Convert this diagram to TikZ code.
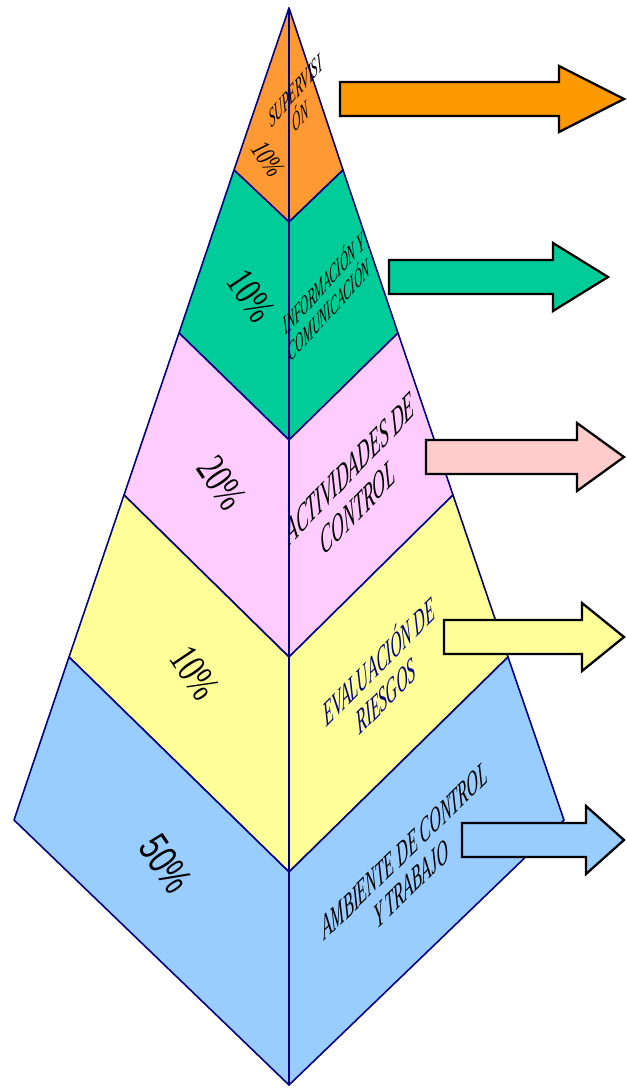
\documentclass[tikz,border=0pt]{standalone}
\usepackage{fontspec}
\setmainfont{Liberation Serif}
\setsansfont{Liberation Sans}

\begin{document}
\begin{tikzpicture}[
    x=0.02cm, y=-0.02cm,
    line join=round,
]

\definecolor{supCol}{RGB}{255, 153, 51}
\definecolor{infCol}{RGB}{0, 204, 153}
\definecolor{actCol}{RGB}{255, 204, 255}
\definecolor{evaCol}{RGB}{255, 255, 153}
\definecolor{ambCol}{RGB}{153, 204, 255}
\definecolor{edgeCol}{RGB}{0, 0, 128}
\definecolor{supArrowCol}{RGB}{255, 153, 0}
\definecolor{actArrowCol}{RGB}{255, 204, 204}

\tikzset{
    face/.style = {draw=edgeCol, line width=0.9pt},
    block_arrow/.style = {draw=black, line width=1.3pt, line join=miter},
    pct_label/.style = {rotate=-56, xscale=0.7, inner sep=0pt},
    layer_label/.style = {inner sep=0pt, align=center}
}

\useasboundingbox (0,0) rectangle (626,1088);

% corner points of the pyramid
\coordinate (apex) at (289, 8);
\coordinate (l1) at (234, 170);  \coordinate (c1) at (289, 222);  \coordinate (r1) at (343, 170);
\coordinate (l2) at (179, 333);  \coordinate (c2) at (289, 440);  \coordinate (r2) at (398, 333);
\coordinate (l3) at (124, 495);  \coordinate (c3) at (289, 657);  \coordinate (r3) at (453, 495);
\coordinate (l4) at (69, 657);   \coordinate (c4) at (289, 872);  \coordinate (r4) at (508, 657);
\coordinate (l5) at (14, 820);   \coordinate (c5) at (289, 1085); \coordinate (r5) at (564, 820);

% =========== SUPERVISION ===========
\draw[face, fill=supCol] (apex) -- (l1) -- (c1) -- cycle;
\draw[face, fill=supCol] (apex) -- (r1) -- (c1) -- cycle;

% =========== INFORMACION Y COMUNICACION ===========
\draw[face, fill=infCol] (l1) -- (c1) -- (c2) -- (l2) -- cycle;
\draw[face, fill=infCol] (r1) -- (c1) -- (c2) -- (r2) -- cycle;

% =========== ACTIVIDADES DE CONTROL ===========
\draw[face, fill=actCol] (l2) -- (c2) -- (c3) -- (l3) -- cycle;
\draw[face, fill=actCol] (r2) -- (c2) -- (c3) -- (r3) -- cycle;

% =========== EVALUACION DE RIESGOS ===========
\draw[face, fill=evaCol] (l3) -- (c3) -- (c4) -- (l4) -- cycle;
\draw[face, fill=evaCol] (r3) -- (c3) -- (c4) -- (r4) -- cycle;

% =========== AMBIENTE DE CONTROL ===========
\draw[face, fill=ambCol] (l4) -- (c4) -- (c5) -- (l5) -- cycle;
\draw[face, fill=ambCol] (r4) -- (c4) -- (c5) -- (r5) -- cycle;

% front edge
\draw[face] (apex) -- (c5);

% percentages on the left face
\node[pct_label, font=\fontsize{16}{18}\selectfont\itshape] (sup_pct) at (268, 159) {10\%};
\node[pct_label, font=\fontsize{23}{25}\selectfont] (inf_pct) at (251, 296) {10\%};
\node[pct_label, font=\fontsize{24}{26}\selectfont] (act_pct) at (222, 483) {20\%};
\node[pct_label, font=\fontsize{24}{26}\selectfont] (eva_pct) at (195, 673) {10\%};
\node[pct_label, font=\fontsize{24}{26}\selectfont\sffamily] (amb_pct) at (166, 864) {50\%};

% names on the right face, slanted with the face
\node[layer_label, cm={0.434,0.500,-0.2,1,(0,0)}, font=\fontsize{14}{15}\selectfont\itshape]
    (sup_name) at (298, 104) {SUPERVISI\\ÓN};
\node[layer_label, cm={0.428,0.469,-0.2,1,(0,0)}, font=\fontsize{14}{15}\selectfont\itshape]
    (inf_name) at (326, 295) {INFORMACIÓN Y\\COMUNICACIÓN};
\node[layer_label, cm={0.447,0.464,-0.2,1,(0,0)}, font=\fontsize{20.5}{22}\selectfont\itshape]
    (act_name) at (354, 488) {ACTIVIDADES DE\\CONTROL};
\node[layer_label, cm={0.441,0.443,-0.2,1,(0,0)}, font=\fontsize{18.5}{19.5}\selectfont\itshape, text=edgeCol]
    (eva_name) at (382, 676) {EVALUACIÓN DE\\RIESGOS};
\node[layer_label, cm={0.451,0.440,-0.2,1,(0,0)}, font=\fontsize{18.5}{19}\selectfont\itshape]
    (amb_name) at (408, 867) {AMBIENTE DE CONTROL\\Y TRABAJO};

% arrows to the right
\draw[block_arrow, fill=supArrowCol] (340, 82) -- (559, 82) -- (559, 66) -- (624, 99)
    -- (559, 132) -- (559, 116) -- (340, 116) -- cycle;
\draw[block_arrow, fill=infCol] (389, 260) -- (553, 260) -- (553, 243) -- (608, 277)
    -- (553, 311) -- (553, 294) -- (389, 294) -- cycle;
\draw[block_arrow, fill=actArrowCol] (426, 440) -- (577, 440) -- (577, 423) -- (624, 457)
    -- (577, 491) -- (577, 474) -- (426, 474) -- cycle;
\draw[block_arrow, fill=evaCol] (444, 620) -- (582, 620) -- (582, 603) -- (624, 637)
    -- (582, 671) -- (582, 654) -- (444, 654) -- cycle;
\draw[block_arrow, fill=ambCol] (462, 823) -- (586, 823) -- (586, 806) -- (624, 840)
    -- (586, 874) -- (586, 857) -- (462, 857) -- cycle;

\end{tikzpicture}
\end{document}
